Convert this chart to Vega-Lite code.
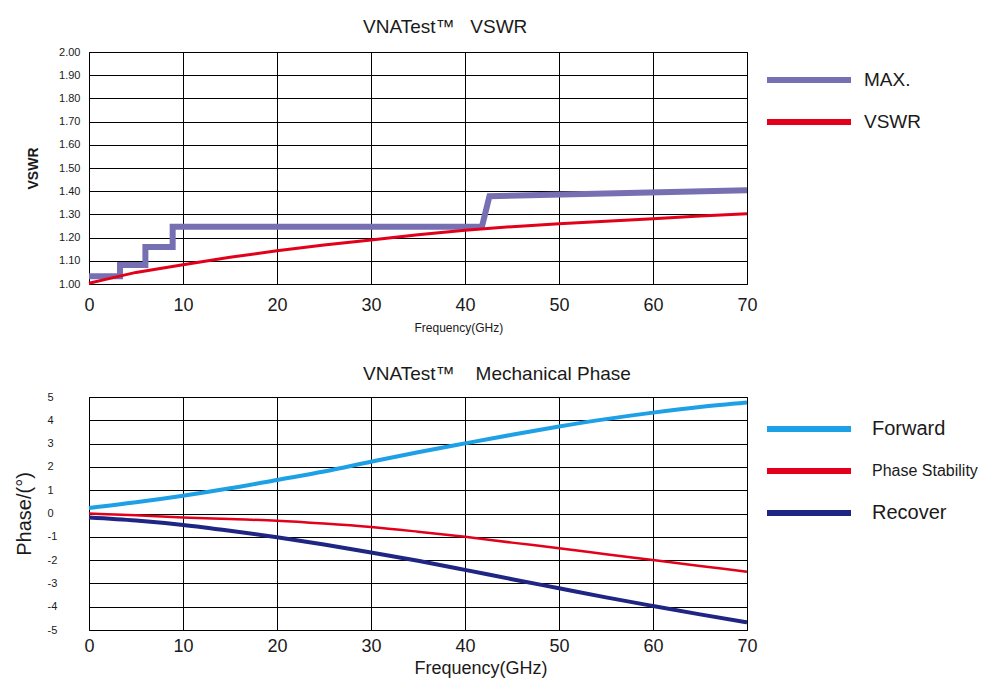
{
  "$schema": "https://vega.github.io/schema/vega-lite/v6.json",
  "background": "white",
  "padding": {"left": 13, "top": 17, "right": 10, "bottom": 5},
  "config": {
    "font": "Liberation Sans",
    "view": {"stroke": "#000", "strokeWidth": 1},
    "axis": {
      "grid": true, "gridColor": "#000", "gridOpacity": 1, "gridWidth": 1,
      "domain": false, "ticks": false, "tickSize": 0,
      "labelColor": "#1a1a1a", "titleColor": "#1a1a1a",
      "labelFont": "Liberation Sans", "titleFont": "Liberation Sans",
      "labelFlush": false, "labelOverlap": false
    },
    "legend": {
      "orient": "none", "direction": "vertical", "title": null, "padding": 0,
      "labelFont": "Liberation Sans", "labelColor": "#1a1a1a",
      "symbolType": "M-4,0H4", "symbolSize": 441, "symbolStrokeWidth": 6,
      "labelLimit": 300
    }
  },
  "datasets": {
    "vswr": [
      {"s": "MAX.", "i": 0, "f": 0, "v": 1.033},
      {"s": "MAX.", "i": 1, "f": 3.3, "v": 1.033},
      {"s": "MAX.", "i": 2, "f": 3.3, "v": 1.082},
      {"s": "MAX.", "i": 3, "f": 6.0, "v": 1.082},
      {"s": "MAX.", "i": 4, "f": 6.0, "v": 1.16},
      {"s": "MAX.", "i": 5, "f": 8.9, "v": 1.16},
      {"s": "MAX.", "i": 6, "f": 8.9, "v": 1.247},
      {"s": "MAX.", "i": 7, "f": 41.8, "v": 1.247},
      {"s": "MAX.", "i": 8, "f": 42.6, "v": 1.378},
      {"s": "MAX.", "i": 9, "f": 70, "v": 1.404},
      {"s": "VSWR", "i": 0, "f": 0, "v": 1.003},
      {"s": "VSWR", "i": 1, "f": 2, "v": 1.022},
      {"s": "VSWR", "i": 2, "f": 5, "v": 1.05},
      {"s": "VSWR", "i": 3, "f": 10, "v": 1.083},
      {"s": "VSWR", "i": 4, "f": 15, "v": 1.115},
      {"s": "VSWR", "i": 5, "f": 20, "v": 1.143},
      {"s": "VSWR", "i": 6, "f": 25, "v": 1.168},
      {"s": "VSWR", "i": 7, "f": 30, "v": 1.19},
      {"s": "VSWR", "i": 8, "f": 35, "v": 1.212},
      {"s": "VSWR", "i": 9, "f": 40, "v": 1.232},
      {"s": "VSWR", "i": 10, "f": 45, "v": 1.247},
      {"s": "VSWR", "i": 11, "f": 50, "v": 1.26},
      {"s": "VSWR", "i": 12, "f": 55, "v": 1.27},
      {"s": "VSWR", "i": 13, "f": 60, "v": 1.281},
      {"s": "VSWR", "i": 14, "f": 65, "v": 1.293},
      {"s": "VSWR", "i": 15, "f": 70, "v": 1.303}
    ],
    "phase": [
      {"s": "Forward", "f": 0, "v": 0.24},
      {"s": "Forward", "f": 5, "v": 0.48},
      {"s": "Forward", "f": 10, "v": 0.76},
      {"s": "Forward", "f": 15, "v": 1.08},
      {"s": "Forward", "f": 20, "v": 1.44},
      {"s": "Forward", "f": 25, "v": 1.8},
      {"s": "Forward", "f": 30, "v": 2.22},
      {"s": "Forward", "f": 35, "v": 2.63},
      {"s": "Forward", "f": 40, "v": 3.01},
      {"s": "Forward", "f": 45, "v": 3.38},
      {"s": "Forward", "f": 50, "v": 3.73},
      {"s": "Forward", "f": 55, "v": 4.05},
      {"s": "Forward", "f": 60, "v": 4.33},
      {"s": "Forward", "f": 65, "v": 4.57},
      {"s": "Forward", "f": 70, "v": 4.76},
      {"s": "Phase Stability", "f": 0, "v": 0.0},
      {"s": "Phase Stability", "f": 5, "v": -0.08},
      {"s": "Phase Stability", "f": 10, "v": -0.17},
      {"s": "Phase Stability", "f": 15, "v": -0.24},
      {"s": "Phase Stability", "f": 20, "v": -0.31},
      {"s": "Phase Stability", "f": 25, "v": -0.43},
      {"s": "Phase Stability", "f": 30, "v": -0.58},
      {"s": "Phase Stability", "f": 35, "v": -0.78},
      {"s": "Phase Stability", "f": 40, "v": -1.0},
      {"s": "Phase Stability", "f": 45, "v": -1.25},
      {"s": "Phase Stability", "f": 50, "v": -1.49},
      {"s": "Phase Stability", "f": 55, "v": -1.75},
      {"s": "Phase Stability", "f": 60, "v": -2.0},
      {"s": "Phase Stability", "f": 65, "v": -2.25},
      {"s": "Phase Stability", "f": 70, "v": -2.5},
      {"s": "Recover", "f": 0, "v": -0.17},
      {"s": "Recover", "f": 5, "v": -0.3},
      {"s": "Recover", "f": 10, "v": -0.49},
      {"s": "Recover", "f": 15, "v": -0.74},
      {"s": "Recover", "f": 20, "v": -1.02},
      {"s": "Recover", "f": 25, "v": -1.33},
      {"s": "Recover", "f": 30, "v": -1.67},
      {"s": "Recover", "f": 35, "v": -2.03},
      {"s": "Recover", "f": 40, "v": -2.42},
      {"s": "Recover", "f": 45, "v": -2.82},
      {"s": "Recover", "f": 50, "v": -3.21},
      {"s": "Recover", "f": 55, "v": -3.6},
      {"s": "Recover", "f": 60, "v": -3.97},
      {"s": "Recover", "f": 65, "v": -4.33},
      {"s": "Recover", "f": 70, "v": -4.67}
    ]
  },
  "bounds": "flush",
  "spacing": 113,
  "resolve": {"scale": {"color": "independent"}, "legend": {"color": "independent"}},
  "vconcat": [
    {
      "width": 658,
      "height": 232,
      "title": {
        "text": "VNATest™\u00a0\u00a0\u00a0VSWR",
        "anchor": "start", "frame": "group", "dx": 274, "offset": 9,
        "fontSize": 19, "fontWeight": "normal", "color": "#1a1a1a", "font": "Liberation Sans"
      },
      "data": {"name": "vswr"},
      "encoding": {
        "x": {
          "field": "f", "type": "quantitative",
          "scale": {"domain": [0, 70], "nice": false},
          "axis": {
            "values": [0, 10, 20, 30, 40, 50, 60, 70],
            "labelFontSize": 18, "labelPadding": 12,
            "title": "Frequency(GHz)", "titleFontSize": 12, "titleFontWeight": "normal",
            "titleX": 325, "titleY": 47, "titleAlign": "left", "titleBaseline": "alphabetic"
          }
        },
        "y": {
          "field": "v", "type": "quantitative",
          "scale": {"domain": [1, 2], "nice": false, "zero": false},
          "axis": {
            "values": [1, 1.1, 1.2, 1.3, 1.4, 1.5, 1.6, 1.7, 1.8, 1.9, 2],
            "format": ".2f", "labelFontSize": 11, "labelPadding": 9,
            "title": "VSWR", "titleFontSize": 14, "titleFontWeight": "bold", "titlePadding": 18
          }
        },
        "color": {
          "field": "s", "type": "nominal",
          "scale": {"domain": ["MAX.", "VSWR"], "range": ["#7670b3", "#e2001a"]},
          "legend": {"legendX": 706.5, "legendY": 14.5, "labelFontSize": 19, "labelOffset": 41.5, "rowPadding": 16}
        },
        "order": {"field": "i"}
      },
      "layer": [
        {
          "transform": [{"filter": "datum.s == 'MAX.'"}],
          "mark": {"type": "line", "strokeWidth": 6, "strokeCap": "butt", "strokeJoin": "miter"}
        },
        {
          "transform": [{"filter": "datum.s == 'VSWR'"}],
          "mark": {"type": "line", "strokeWidth": 3}
        }
      ]
    },
    {
      "width": 658,
      "height": 233,
      "title": {
        "text": "VNATest™\u00a0\u00a0\u00a0\u00a0Mechanical Phase",
        "anchor": "start", "frame": "group", "dx": 274, "offset": 7,
        "fontSize": 19, "fontWeight": "normal", "color": "#1a1a1a", "font": "Liberation Sans"
      },
      "data": {"name": "phase"},
      "encoding": {
        "x": {
          "field": "f", "type": "quantitative",
          "scale": {"domain": [0, 70], "nice": false},
          "axis": {
            "values": [0, 10, 20, 30, 40, 50, 60, 70],
            "labelFontSize": 18, "labelPadding": 7,
            "title": "Frequency(GHz)", "titleFontSize": 18, "titleFontWeight": "normal",
            "titleX": 325, "titleY": 43, "titleAlign": "left", "titleBaseline": "alphabetic"
          }
        },
        "y": {
          "field": "v", "type": "quantitative",
          "scale": {"domain": [-5, 5], "nice": false, "zero": false},
          "axis": {
            "values": [-5, -4, -3, -2, -1, 0, 1, 2, 3, 4, 5],
            "labelExpr": "'' + datum.value",
            "labelAlign": "left", "labelFontSize": 11, "labelPadding": 42,
            "title": "Phase/(°)", "titleFontSize": 20, "titleFontWeight": "normal", "titlePadding": 13
          }
        },
        "color": {
          "field": "s", "type": "nominal",
          "scale": {"domain": ["Forward", "Phase Stability", "Recover"], "range": ["#1ea0e6", "#e2001a", "#1f2583"]},
          "legend": {
            "legendX": 706.5, "legendY": 18.5,
            "labelFontSize": {"expr": "datum.label == 'Phase Stability' ? 16 : 20"},
            "labelOffset": 49.5, "rowPadding": 16
          }
        }
      },
      "layer": [
        {
          "transform": [{"filter": "datum.s == 'Recover'"}],
          "mark": {"type": "line", "strokeWidth": 4, "interpolate": "monotone"}
        },
        {
          "transform": [{"filter": "datum.s == 'Forward'"}],
          "mark": {"type": "line", "strokeWidth": 4, "interpolate": "monotone"}
        },
        {
          "transform": [{"filter": "datum.s == 'Phase Stability'"}],
          "mark": {"type": "line", "strokeWidth": 2.5, "interpolate": "monotone"}
        }
      ]
    }
  ]
}
